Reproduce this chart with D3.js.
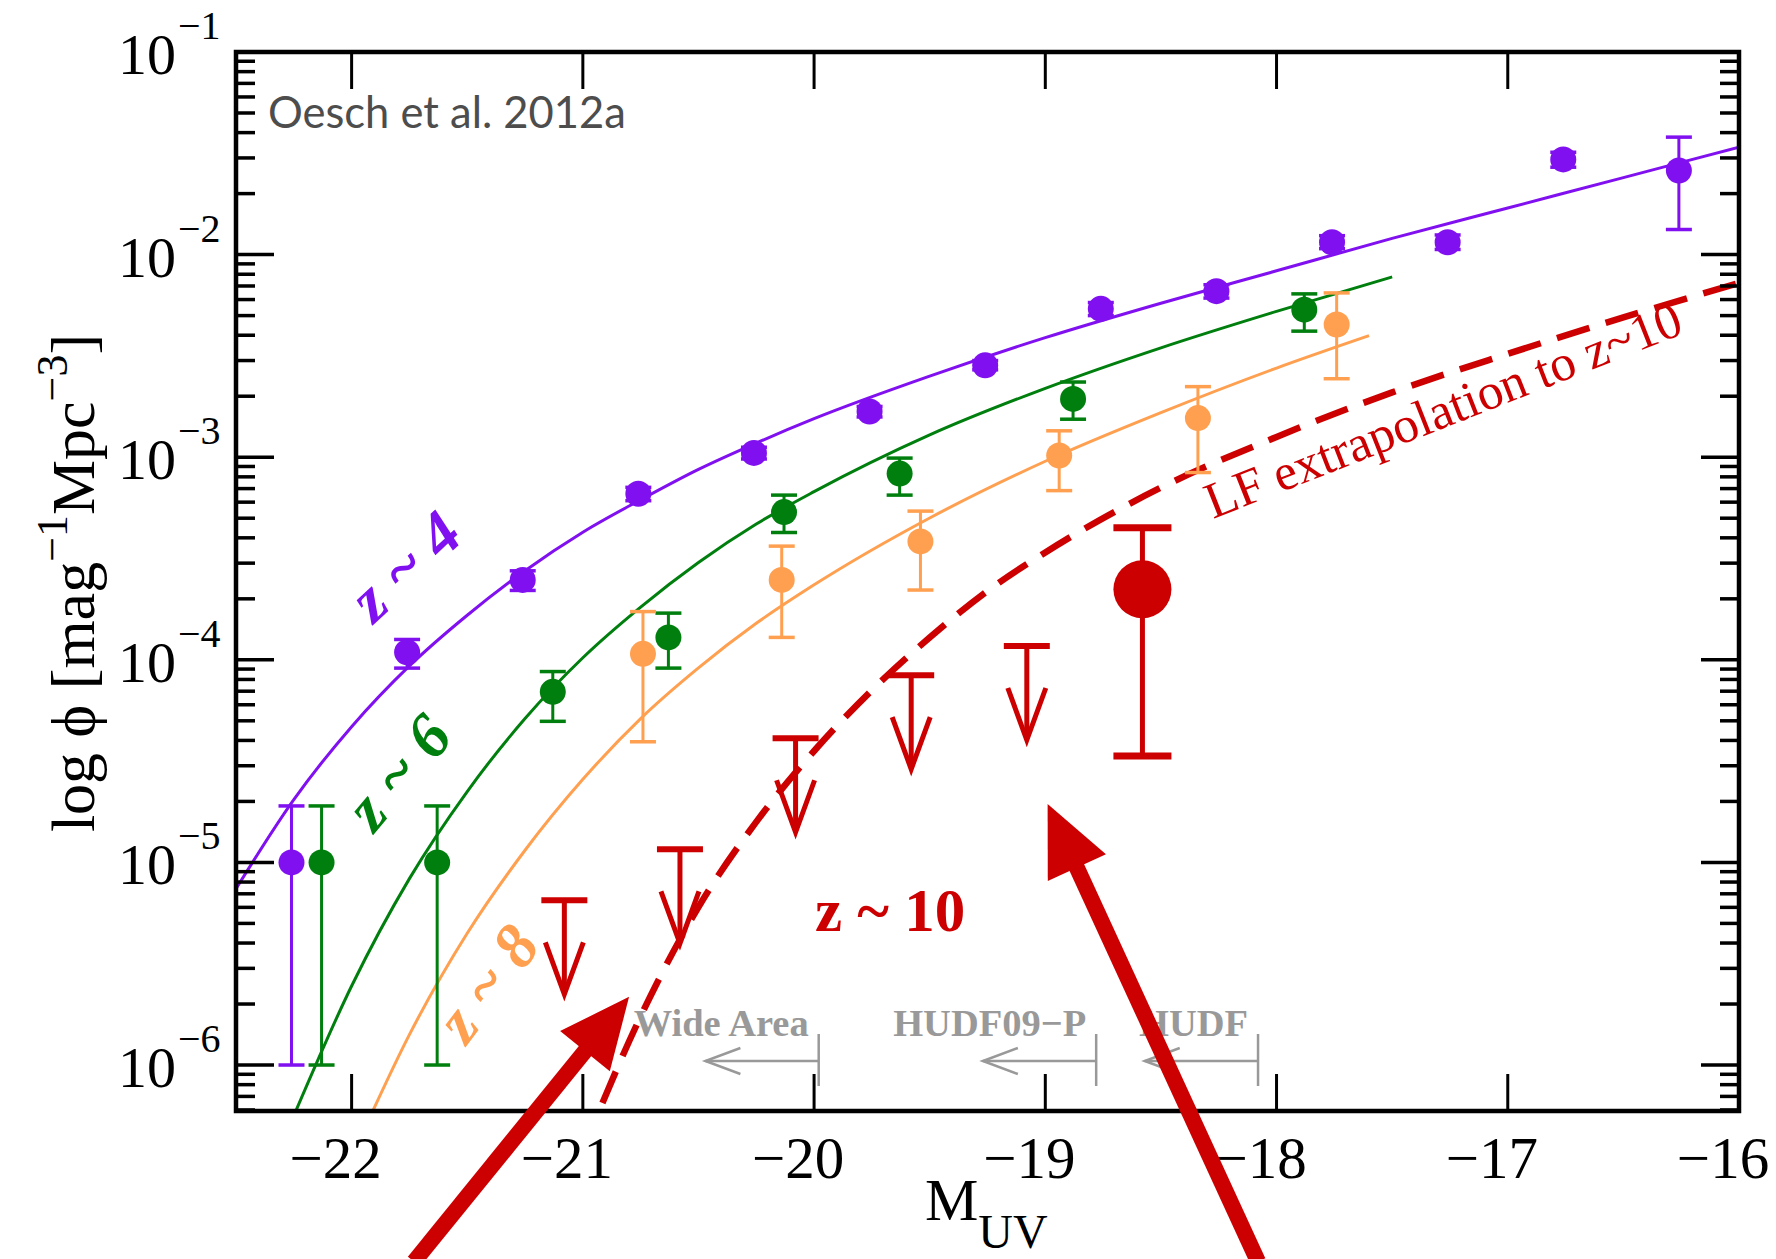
<!DOCTYPE html>
<html><head><meta charset="utf-8">
<script src="https://cdn.jsdelivr.net/npm/d3@7"></script>
<style>body{margin:0;background:#fff}</style>
</head><body>
<svg id="chart" width="1776" height="1259" xmlns="http://www.w3.org/2000/svg"></svg>
<script>
// ---------------- data ----------------
const z4M   = [-22.26,-21.76,-21.26,-20.76,-20.26,-19.76,-19.26,-18.76,-18.26,-17.76,-17.26,-16.76,-16.26];
const z4Phi = [1.0e-5,1.09e-4,2.48e-4,6.6e-4,1.05e-3,1.68e-3,2.84e-3,5.4e-3,6.6e-3,1.15e-2,1.15e-2,2.95e-2,2.6e-2];
const z4Lo  = [1.0e-6,9.1e-5,2.2e-4,6.1e-4,9.8e-4,1.58e-3,2.7e-3,5.0e-3,6.1e-3,1.07e-2,1.06e-2,2.7e-2,1.33e-2];
const z4Hi  = [1.9e-5,1.26e-4,2.75e-4,7.1e-4,1.12e-3,1.78e-3,3.0e-3,5.8e-3,7.1e-3,1.24e-2,1.25e-2,3.2e-2,3.8e-2];

const z6M   = [-22.13,-21.63,-21.13,-20.63,-20.13,-19.63,-18.88,-17.88];
const z6Phi = [1.0e-5,1.0e-5,6.95e-5,1.29e-4,5.36e-4,8.3e-4,1.94e-3,5.35e-3];
const z6Lo  = [1.0e-6,1.0e-6,4.97e-5,9.1e-5,4.25e-4,6.5e-4,1.54e-3,4.19e-3];
const z6Hi  = [1.9e-5,1.9e-5,8.75e-5,1.7e-4,6.5e-4,9.9e-4,2.35e-3,6.4e-3];

const z8M   = [-20.74,-20.14,-19.54,-18.94,-18.34,-17.74];
const z8Phi = [1.07e-4,2.48e-4,3.84e-4,1.02e-3,1.56e-3,4.52e-3];
const z8Lo  = [3.94e-5,1.29e-4,2.21e-4,6.84e-4,8.4e-4,2.44e-3];
const z8Hi  = [1.73e-4,3.64e-4,5.42e-4,1.35e-3,2.23e-3,6.47e-3];

const z10LimM   = [-21.08,-20.58,-20.08,-19.58,-19.08];
const z10LimPhi = [6.5e-6,1.16e-5,4.1e-5,8.4e-5,1.17e-4];
const z10DetM   = [-18.58];
const z10DetPhi = [2.23e-4];
const z10DetLo  = [3.35e-5];
const z10DetHi  = [4.49e-4];

// fitted LF curves (M, log10 phi)
const fit4M   = [-22.5,-22.25,-22,-21.75,-21.5,-21.25,-21,-20.75,-20.5,-20.25,-20,-19.5,-19,-18.5,-18,-17.5,-17,-16.5,-16];
const fit4Log = [-5.13,-4.69,-4.33,-4.03,-3.78,-3.56,-3.37,-3.21,-3.06,-2.93,-2.81,-2.60,-2.41,-2.24,-2.08,-1.92,-1.77,-1.62,-1.47];
const fit6M   = [-22.25,-22,-21.75,-21.5,-21.25,-21,-20.75,-20.5,-20.25,-20,-19.5,-19,-18.5,-18,-17.5];
const fit6Log = [-6.25,-5.61,-5.08,-4.65,-4.29,-3.99,-3.74,-3.52,-3.33,-3.17,-2.89,-2.66,-2.46,-2.28,-2.11];
const fit8M   = [-21.95,-21.75,-21.5,-21.25,-21,-20.75,-20.5,-20.25,-20,-19.5,-19,-18.5,-18,-17.6];
const fit8Log = [-6.33,-5.85,-5.35,-4.94,-4.59,-4.29,-4.04,-3.82,-3.63,-3.30,-3.02,-2.78,-2.56,-2.40];
const fit10M   = [-21.0,-20.75,-20.5,-20.25,-20,-19.75,-19.5,-19.25,-19,-18.5,-18,-17.5,-17,-16.5,-16];
const fit10Log = [-6.42,-5.76,-5.22,-4.80,-4.45,-4.15,-3.89,-3.66,-3.47,-3.15,-2.90,-2.68,-2.49,-2.31,-2.14];

const xTickValues = [-22,-21,-20,-19,-18,-17,-16];
const yMajorExp   = [-6,-5,-4,-3,-2,-1];

// survey depth annotations
const surveyNames = ["Wide Area","HUDF09\u2212P","HUDF"];
const surveyLimM  = [-19.98,-18.78,-18.08];

// big annotation arrows (data coords): start -> tip
const bigArrowStart = [[-21.73,1.07e-7],[-18.08,1.07e-7]];
const bigArrowTip   = [[-20.80,2.17e-6],[-18.99,1.94e-5]];

// ---------------- drawing ----------------
const C4="#8010F0", C6="#007F0E", C8="#FFA050", C10="#CC0000";
const L=236, R=1739, T=52, B=1111;
const svg = d3.select("#chart");
const x = d3.scaleLinear().domain([-22.5,-16]).range([L,R]);
const y = d3.scaleLog().domain([5.93e-7,0.1]).range([B,T]);

svg.append("defs").append("clipPath").attr("id","clip")
  .append("rect").attr("x",L).attr("y",T).attr("width",R-L).attr("height",B-T);

const plot = svg.append("g").attr("clip-path","url(#clip)");
const line = d3.line().x(d=>x(d[0])).y(d=>y(Math.pow(10,d[1]))).curve(d3.curveMonotoneX);

function curve(ms, ls, col, w, dash){
  const p = plot.append("path").datum(ms.map((m,i)=>[m,ls[i]]))
    .attr("d",line).attr("fill","none").attr("stroke",col).attr("stroke-width",w);
  if(dash) p.attr("stroke-dasharray",dash);
}
curve(fit4M,fit4Log,C4,3);
curve(fit6M,fit6Log,C6,3);
curve(fit8M,fit8Log,C8,3);
curve(fit10M,fit10Log,C10,6.5,"34,17");

function points(ms, ph, lo, hi, col, r, capW, lw, capLw){
  const g = plot.append("g");
  ms.forEach((m,i)=>{
    const cx = x(m);
    g.append("line").attr("x1",cx).attr("x2",cx).attr("y1",y(lo[i])).attr("y2",y(hi[i]))
      .attr("stroke",col).attr("stroke-width",lw);
    [lo[i],hi[i]].forEach(v=>{
      g.append("line").attr("x1",cx-capW/2).attr("x2",cx+capW/2).attr("y1",y(v)).attr("y2",y(v))
        .attr("stroke",col).attr("stroke-width",capLw);
    });
    g.append("circle").attr("cx",cx).attr("cy",y(ph[i])).attr("r",r).attr("fill",col);
  });
}
points(z4M,z4Phi,z4Lo,z4Hi,C4,13,26,3,3.5);
points(z6M,z6Phi,z6Lo,z6Hi,C6,13,26,3,3.5);
points(z8M,z8Phi,z8Lo,z8Hi,C8,13,26,3,3.5);
points(z10DetM,z10DetPhi,z10DetLo,z10DetHi,C10,29,58,5,7);

// upper limits
const ul = plot.append("g").attr("stroke",C10).attr("fill","none");
z10LimM.forEach((m,i)=>{
  const cx=x(m), cy=y(z10LimPhi[i]), tip=cy+94;
  ul.append("line").attr("x1",cx-23).attr("x2",cx+23).attr("y1",cy).attr("y2",cy).attr("stroke-width",6);
  ul.append("line").attr("x1",cx).attr("x2",cx).attr("y1",cy).attr("y2",tip-3).attr("stroke-width",5);
  ul.append("path").attr("d",`M${cx-19},${tip-52}L${cx},${tip}L${cx+19},${tip-52}`).attr("stroke-width",5);
});

// survey annotations
const sv = svg.append("g");
surveyLimM.forEach((m,i)=>{
  const bx=x(m), ly=1061;
  const ax = x(m-0.49);
  sv.append("line").attr("x1",ax).attr("x2",bx).attr("y1",ly).attr("y2",ly).attr("stroke","#999").attr("stroke-width",2.5);
  sv.append("line").attr("x1",bx).attr("x2",bx).attr("y1",ly-27).attr("y2",ly+25).attr("stroke","#999").attr("stroke-width",2.5);
  sv.append("path").attr("d",`M${ax+35},${ly-13}L${ax},${ly}L${ax+35},${ly+13}`).attr("fill","none").attr("stroke","#999").attr("stroke-width",2.5);
  sv.append("text").attr("x",bx-10).attr("y",1036).attr("text-anchor","end")
    .attr("font-family","Liberation Serif").attr("font-weight","bold").attr("font-size",38.5)
    .attr("fill","#999").text(surveyNames[i]);
});

// axes frame and ticks
const allTicks = y.ticks();
const majorT = allTicks.filter(v=>Math.abs(Math.log10(v)-Math.round(Math.log10(v)))<1e-6);
const minorT = allTicks.filter(v=>!majorT.includes(v));
const ax = svg.append("g").attr("stroke","#000");
[[L,1],[R,-1]].forEach(([px,dir])=>{
  majorT.forEach(v=>ax.append("line").attr("x1",px).attr("x2",px+dir*38).attr("y1",y(v)).attr("y2",y(v)).attr("stroke-width",3.5));
  minorT.forEach(v=>ax.append("line").attr("x1",px).attr("x2",px+dir*19).attr("y1",y(v)).attr("y2",y(v)).attr("stroke-width",3.5));
});
[[B,-1],[T,1]].forEach(([py,dir])=>{
  xTickValues.forEach(v=>ax.append("line").attr("x1",x(v)).attr("x2",x(v)).attr("y1",py).attr("y2",py+dir*37).attr("stroke-width",3));
});
svg.append("rect").attr("x",L).attr("y",T).attr("width",R-L).attr("height",B-T)
  .attr("fill","none").attr("stroke","#000").attr("stroke-width",4.5);

const serif = "Liberation Serif, Times New Roman, serif";
// x tick labels
svg.append("g").selectAll("text").data(xTickValues).join("text")
  .attr("x",d=>x(d)-16).attr("y",1178).attr("text-anchor","middle")
  .attr("font-family",serif).attr("font-size",59).text(d=>d3.format("d")(d));
// y tick labels
const yl = svg.append("g").attr("font-family",serif);
yMajorExp.forEach(k=>{
  const py=y(Math.pow(10,k));
  yl.append("text").attr("x",176).attr("y",py+22).attr("text-anchor","end").attr("font-size",58).text("10");
  yl.append("text").attr("x",178).attr("y",py-13).attr("text-anchor","start").attr("font-size",40).text("\u2212"+Math.abs(k));
});

// axis titles
const xt = svg.append("text").attr("x",925).attr("y",1220).attr("text-anchor","start").attr("font-family",serif).attr("font-size",60);
xt.append("tspan").text("M");
xt.append("tspan").attr("font-size",48).attr("dy",28).text("UV");

const yt = svg.append("text").attr("transform","translate(94,583) rotate(-90)").attr("text-anchor","middle")
  .attr("font-family",serif).attr("font-size",62);
yt.append("tspan").text("log \u03D5 [mag");
yt.append("tspan").attr("font-size",44).attr("dy",-27).text("\u22121");
yt.append("tspan").attr("dy",27).text("Mpc");
yt.append("tspan").attr("font-size",44).attr("dy",-27).text("\u22123");
yt.append("tspan").attr("dy",27).text("]");

// labels
svg.append("text").attr("x",268).attr("y",128).attr("font-family","Lato, sans-serif").attr("font-size",43.5)
  .attr("fill","#4d4d4d").text("Oesch et al. 2012a");

function rlabel(cx,cy,ang,txt,col,size){
  svg.append("text").attr("transform",`translate(${cx},${cy}) rotate(${ang})`)
    .attr("text-anchor","middle").attr("dominant-baseline","central")
    .attr("font-family",serif).attr("font-weight","bold").attr("font-style","italic")
    .attr("font-size",size).attr("fill",col).text(txt);
}
rlabel(405,566,-43,"z ~ 4",C4,64);
rlabel(398,772,-50,"z ~ 6",C6,64);
rlabel(487,983,-53,"z ~ 8",C8,64);

svg.append("text").attr("x",815).attr("y",931).attr("font-family",serif).attr("font-weight","bold")
  .attr("font-size",61).attr("fill",C10).text("z ~ 10");

svg.append("text").attr("transform","translate(1213,519) rotate(-21.5)")
  .attr("font-family",serif).attr("font-size",51).attr("fill",C10).text("LF extrapolation to z~10");

// big red arrows
const ba = svg.append("g");
bigArrowStart.forEach((s,i)=>{
  const x0=x(s[0]), y0=y(s[1]), x1=x(bigArrowTip[i][0]), y1=y(bigArrowTip[i][1]);
  const dx=x1-x0, dy=y1-y0, len=Math.hypot(dx,dy), ux=dx/len, uy=dy/len;
  const hl=70, hw=32;
  const bx=x1-ux*hl, by=y1-uy*hl;
  ba.append("line").attr("x1",x0).attr("y1",y0).attr("x2",bx+ux*5).attr("y2",by+uy*5)
    .attr("stroke",C10).attr("stroke-width",16);
  ba.append("path").attr("d",`M${x1},${y1}L${bx-uy*hw},${by+ux*hw}L${bx+uy*hw},${by-ux*hw}Z`).attr("fill",C10);
});
</script>
</body></html>
